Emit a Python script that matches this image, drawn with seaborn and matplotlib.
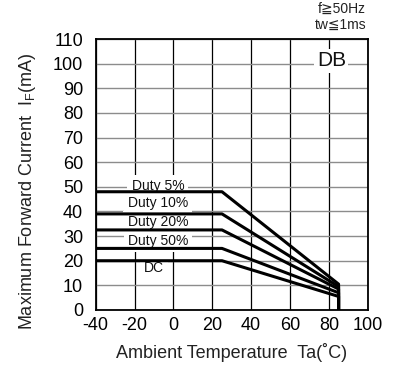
import matplotlib
matplotlib.use("Agg")
import matplotlib.pyplot as plt
import seaborn as sns
import pandas as pd

# Derating curves: flat up to the knee, linear down to the max temperature, then to zero
temps = [-40, 25, 85, 85]
duty5 = [48, 48, 10.5, 0]
duty10 = [39, 39, 9.5, 0]
duty20 = [32.5, 32.5, 8.5, 0]
duty50 = [25, 25, 7, 0]
dc = [20, 20, 5.5, 0]

series_names = ["Duty 5%", "Duty 10%", "Duty 20%", "Duty 50%", "DC"]
series_values = [duty5, duty10, duty20, duty50, dc]
label_pos = [(-8, 50.3), (-8, 43.5), (-8, 35.7), (-8, 28.2), (-10, 17)]

x_ticks = [-40, -20, 0, 20, 40, 60, 80, 100]
y_ticks = [0, 10, 20, 30, 40, 50, 60, 70, 80, 90, 100, 110]

sns.set_style("white")
plt.rcParams["font.family"] = ["Liberation Sans", "DejaVu Sans"]

rows = []
for name, vals in zip(series_names, series_values):
    for i, (t, v) in enumerate(zip(temps, vals)):
        rows.append({"Ta": t, "IF": v, "curve": name, "order": i})
df = pd.DataFrame(rows)

fig = plt.figure(figsize=(3.99, 3.69), dpi=100)
ax = fig.add_axes([0.2399, 0.1599, 0.6817, 0.7344])

sns.lineplot(data=df, x="Ta", y="IF", units="curve", estimator=None, sort=False,
             color="black", linewidth=2.2, ax=ax, legend=False, zorder=3)

ax.set_xlim(-40, 100)
ax.set_ylim(0, 110)
ax.set_xticks(x_ticks)
ax.set_yticks(y_ticks)
ax.set_xticklabels([str(v) for v in x_ticks])
ax.set_yticklabels([str(v) for v in y_ticks])
ax.tick_params(axis="both", length=0, labelsize=13, colors="black")
ax.tick_params(axis="x", pad=5)
ax.tick_params(axis="y", pad=9)

ax.set_axisbelow(True)
ax.grid(axis="y", color="#8c8c8c", linewidth=1.0)
ax.grid(axis="x", color="black", linewidth=0.9)
for sp in ax.spines.values():
    sp.set_visible(True)
    sp.set_color("black")
    sp.set_linewidth(1.3)

for name, (lx, ly) in zip(series_names, label_pos):
    ax.text(lx, ly, name, ha="center", va="center", fontsize=10, color="#111111",
            zorder=2, bbox=dict(boxstyle="square,pad=0.3", fc="white", ec="none"))

ax.text(81.3, 101.2, "DB", ha="center", va="center", fontsize=15, color="#111111",
        zorder=2, bbox=dict(boxstyle="square,pad=0.12", fc="white", ec="none"))

ax.set_xlabel("Ambient Temperature  Ta(˚C)", fontsize=13, color="#222222", va="center")
ax.xaxis.set_label_coords(0.5, -0.155)
ax.set_ylabel(r"Maximum Forward Current  I$_{\mathregular{F}}$(mA)", fontsize=13,
              color="#222222", rotation=90, va="center", ha="center")
ax.yaxis.set_label_coords(-0.2526, 0.439)

fig.text(366 / 399, 1 - 9 / 369, "f≧50Hz", ha="right", va="center", fontsize=10,
         color="#222222")
fig.text(366 / 399, 1 - 25 / 369, "tw≦1ms", ha="right", va="center", fontsize=10,
         color="#222222")

fig.savefig("out.png", dpi=100)
